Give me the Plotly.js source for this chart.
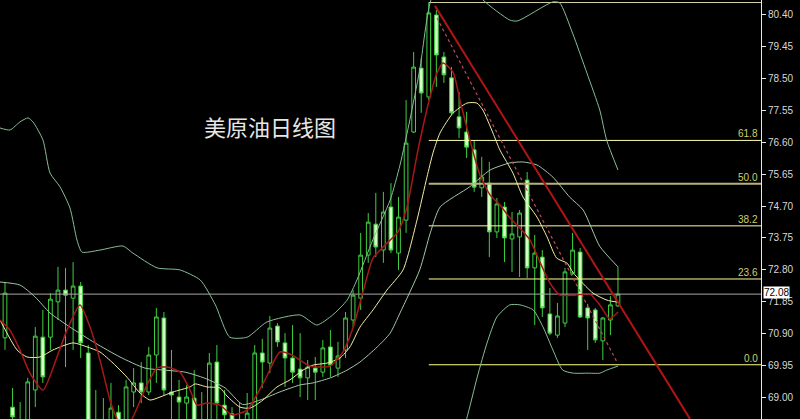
<!DOCTYPE html>
<html><head><meta charset="utf-8">
<script src="https://cdn.plot.ly/plotly-3.0.1.min.js"></script>
<style>html,body{margin:0;padding:0;background:#000;}#chart{width:800px;height:419px;}</style>
</head><body><div id="chart"></div>
<script>
// ---- candle data (daily OHLC) ----
const opens  = [70.78,68.72,67.80,68.10,69.23,70.80,70.80,71.85,72.20,71.96,72.32,70.33,68.20,67.90,68.00,68.57,68.10,69.17,69.44,69.17,70.27,71.37,69.17,69.02,68.84,68.99,67.90,68.10,70.06,68.78,68.52,68.00,68.10,68.20,70.33,70.03,71.13,70.63,70.18,69.85,69.59,69.88,69.76,70.51,69.88,70.42,71.31,71.96,73.24,74.16,73.39,74.67,73.30,74.28,76.90,78.80,77.94,80.38,79.13,78.51,77.35,76.90,76.37,75.24,75.38,73.93,74.67,73.72,73.78,75.47,72.86,73.18,71.49,70.86,71.22,72.71,73.33,71.67,71.61,70.69,71.31,71.73];
const highs  = [72.44,69.29,68.87,69.59,71.10,71.61,72.11,72.89,72.86,73.03,72.44,70.57,69.23,68.99,69.44,68.78,69.53,69.88,70.06,70.51,71.67,71.55,70.42,69.53,69.38,69.82,69.17,70.33,70.57,69.23,68.72,68.87,69.14,70.57,70.75,71.43,71.22,70.92,71.16,70.92,70.12,70.21,70.72,71.01,70.66,71.55,72.20,73.90,74.49,75.09,75.12,75.38,74.97,77.85,79.28,79.10,80.75,80.53,79.28,78.83,78.09,77.50,76.66,76.16,76.01,74.94,74.82,74.52,74.58,75.71,73.84,73.39,72.26,71.82,72.86,73.90,73.45,71.79,71.67,71.40,72.02,72.89];
const lows   = [70.42,68.10,67.60,67.90,68.72,69.44,70.42,71.31,69.91,70.42,70.18,67.90,67.70,67.60,67.80,67.90,67.90,68.72,68.84,69.08,69.44,69.08,68.20,68.20,68.20,67.90,67.70,67.90,68.20,68.20,68.00,67.80,67.90,68.00,69.29,69.73,70.51,69.32,69.44,69.02,68.93,68.93,69.62,69.62,69.62,70.18,71.10,71.61,73.01,73.18,73.01,73.30,72.80,73.90,76.87,77.47,77.85,78.24,78.36,77.41,76.72,76.13,75.12,74.97,73.18,73.75,73.03,72.74,72.59,72.56,71.16,71.40,70.86,70.78,71.10,72.65,71.37,70.42,70.63,70.12,70.86,71.70];
const closes = [72.11,68.43,68.10,69.47,70.83,69.62,71.93,72.20,72.05,72.32,70.63,68.10,67.90,68.20,68.69,68.10,69.32,69.44,69.17,70.27,71.40,69.23,69.08,68.87,69.02,68.10,68.15,70.03,68.84,68.49,68.20,68.20,68.54,70.33,70.06,71.07,70.66,70.18,69.76,69.59,69.91,69.76,70.48,69.97,70.24,71.37,72.05,73.24,74.22,73.48,74.52,73.39,74.37,76.57,78.83,78.06,80.44,79.19,78.60,77.47,77.02,76.45,75.26,75.56,73.93,74.76,73.75,73.87,74.49,72.86,73.30,71.67,70.92,71.43,72.74,73.39,71.40,71.37,70.72,71.37,71.76,72.08];

// ---- indicator lines (candle index, price) ----
const ma5X = [-0.66,0.66,1.98,3.30,5.02,6.87,8.19,9.91,11.23,12.55,13.87,14.80,15.86,16.91,18.76,20.08,21.41,23.12,24.45,25.37,26.69,28.41,29.99,31.98,34.35,36.34,37.92,40.30,42.94,44.66,45.98,47.30,48.63,50.21,51.93,53.12,54.57,56.16,57.08,57.88,59.20,60.12,61.44,62.76,64.09,65.41,66.73,68.05,69.37,70.69,72.01,73.34,75.32,77.30,78.62,79.90,81];
const ma5Y = [71.31,71.01,70.42,69.73,69.23,70.21,71.01,71.76,71.10,70.12,68.93,68.37,68.04,68.42,69.38,69.88,69.91,69.76,69.23,68.78,68.84,68.78,68.49,68.63,69.53,70.36,70.27,69.94,69.94,70.36,71.07,72.14,73.15,73.54,73.93,74.67,76.36,77.94,78.65,78.95,78.68,77.85,76.66,75.62,75.03,74.73,74.34,74.04,73.69,73.03,72.41,72.05,72.05,72.08,71.75,71.35,71.55];
const ma10X = [-0.66,1.59,2.91,4.62,6.34,9.00,10.84,12.55,14.27,16.12,17.84,19.16,20.48,22.19,24.45,25.11,26.69,28.41,29.33,31.05,32.37,34.09,35.94,37.66,39.38,40.70,42.55,44.27,45.58,46.91,48.63,50.47,52.60,54.44,55.76,56.56,57.48,59.20,61.04,62.36,63.15,64.48,65.41,67.12,68.44,70.30,71.63,72.90,74.28,75.10,77.70,79.55,81];
const ma10Y = [71.31,70.42,70.21,70.21,70.42,70.63,70.51,70.36,70.03,69.61,69.14,68.93,69.02,69.17,69.32,69.41,69.32,69.29,69.05,68.72,68.69,68.93,69.32,69.53,69.82,69.97,70.03,70.18,70.51,71.10,71.61,72.20,72.80,74.28,75.56,76.28,76.87,77.46,77.76,77.76,77.55,76.87,76.36,75.68,74.97,74.37,73.78,73.15,73.00,72.71,72.11,71.90,71.84];
const bbMidX = [-0.66,1.98,3.96,5.95,8.59,11.89,15.2,18.5,21.1,23.8,26.4,29.1,31.4,33.7,36.3,39.0,40.7,43.0,45.2,46.9,49.2,50.9,52.2,54.8,56.2,57.5,61.4,64.1,66.7,68.4,70.3,72.4,74.6,76.4,78.6,81];
const bbMidY = [72.44,72.35,72.00,71.52,71.10,70.63,70.21,69.88,69.82,69.76,69.58,69.29,68.80,68.93,69.17,69.38,69.44,69.59,69.82,70.06,70.51,70.92,71.52,72.80,73.90,74.67,75.27,75.77,75.98,76.01,75.92,75.56,74.97,74.58,73.50,72.89];
const bbUpX = [-0.66,0.66,1.98,3.04,3.70,5.02,5.95,7.27,8.59,9.51,10.17,12.55,15.6,16.9,20.1,23.1,25.8,27.8,29.7,32.0,34.6,39.0,41.2,43.3,45.2,46.5,48.6,50.9,52.2,53.5,54.8,56.4,58.5,61.0,63.15,66.7,67.7,72.4,73.3,75.0,76.9,78.6,79.5,81];
const bbUpY = [77.02,76.96,77.20,77.32,77.20,76.66,75.68,75.27,74.64,73.69,73.33,73.39,73.51,73.30,72.86,72.80,72.50,71.76,70.80,70.80,71.25,71.46,71.16,71.46,71.90,72.50,73.69,74.88,75.92,77.26,78.74,80.90,81.40,81.50,80.83,80.23,80.20,80.77,80.74,79.84,78.65,77.55,76.66,75.77];
const bbLowX = [59.5,61.0,62.4,63.7,65.0,66.7,68.05,69.8,71.1,72.4,73.7,75.1,76.9,78.6,79.5,81];
const bbLowY = [67.30,68.37,69.61,70.63,71.40,71.76,71.76,71.61,71.10,70.42,69.82,69.73,69.73,69.73,69.82,69.94];

// ---- drawn objects ----
const trendX = [56.82,90.51];      const trendY = [80.65,68.37];
const trendDashX = [57.08,80.87];  const trendDashY = [80.29,70.06];
const fibLabels = ['0.0','23.6','38.2','50.0','61.8','100.0'];
const fibPrices = [69.98,72.53,74.11,75.36,76.65,80.75];
const fibColors = ['#ffff88','#ffff99','#ffffa0','#b8b27a','#ffffb8','#d6d2a4'];
const fibStart = 56.0, xEnd = 99.9;
const lastPrice = 72.08;
const yTicks = [80.40,79.45,78.50,77.55,76.60,75.65,74.70,73.75,72.80,71.85,70.90,69.95,69.00];
const titleText = '美原油日线图';

const idx = opens.map((_, i) => i);
const traces = [];
fibPrices.forEach((p, k) => {
  traces.push({type:'scatter', mode:'lines', x:[fibStart, xEnd], y:[p, p],
    line:{color:fibColors[k], width: k===3 ? 2 : 1}, hoverinfo:'skip', showlegend:false});
});
traces.push({type:'scatter', mode:'lines', x:[-1, xEnd], y:[lastPrice, lastPrice],
  line:{color:'#a8a8a8', width:1}, hoverinfo:'skip', showlegend:false});
traces.push({type:'candlestick', x:idx, open:opens, high:highs, low:lows, close:closes,
  increasing:{line:{color:'#3fcf3f', width:1}, fillcolor:'#000000'},
  decreasing:{line:{color:'#3fcf3f', width:1}, fillcolor:'#d4ffc4'},
  whiskerwidth:0, showlegend:false, hoverinfo:'skip'});
const bandCol = '#86bf94';
traces.push({type:'scatter', mode:'lines', x:bbUpX, y:bbUpY, line:{color:bandCol, width:1, shape:'spline', smoothing:0.6}, showlegend:false, hoverinfo:'skip'});
traces.push({type:'scatter', mode:'lines', x:bbLowX, y:bbLowY, line:{color:bandCol, width:1, shape:'spline', smoothing:0.6}, showlegend:false, hoverinfo:'skip'});
traces.push({type:'scatter', mode:'lines', x:bbMidX, y:bbMidY, line:{color:'#a3c7a8', width:1, shape:'spline', smoothing:0.6}, showlegend:false, hoverinfo:'skip'});
traces.push({type:'scatter', mode:'lines', x:ma10X, y:ma10Y, line:{color:'#f2eea0', width:1, shape:'spline', smoothing:0.6}, showlegend:false, hoverinfo:'skip'});
traces.push({type:'scatter', mode:'lines', x:ma5X, y:ma5Y, line:{color:'#a81818', width:1.5, shape:'spline', smoothing:0.6}, showlegend:false, hoverinfo:'skip'});
traces.push({type:'scatter', mode:'lines', x:trendX, y:trendY, line:{color:'#b01515', width:2}, showlegend:false, hoverinfo:'skip'});
traces.push({type:'scatter', mode:'lines', x:trendDashX, y:trendDashY, line:{color:'#c04a5a', width:1.2, dash:'dot'}, showlegend:false, hoverinfo:'skip'});

const annotations = [];
fibLabels.forEach((t, k) => {
  if (k === 5) return;
  annotations.push({xref:'paper', yref:'y', x:1, y:fibPrices[k], xanchor:'right', yanchor:'bottom',
    xshift:-1, yshift:-1, text:t, showarrow:false, font:{family:'Liberation Sans, Arial', size:10, color:'#d2cf6a'}});
});
annotations.push({xref:'paper', yref:'y', x:1, y:lastPrice, xanchor:'left', yanchor:'middle', xshift:2, yshift:2,
  text:lastPrice.toFixed(2), showarrow:false, bgcolor:'#ffffff', borderpad:0,
  font:{family:'Liberation Sans, Arial', size:10, color:'#000000'}});
annotations.push({xref:'paper', yref:'paper', x:0.355, y:0.699, xanchor:'center', yanchor:'middle',
  text:titleText, showarrow:false, font:{family:'Noto Sans CJK SC', size:22, color:'#e6e6e6'}});

const layout = {
  width:800, height:419,
  margin:{l:0, r:39, t:0, b:0, pad:0},
  paper_bgcolor:'#000000', plot_bgcolor:'#000000',
  xaxis:{range:[-0.66, xEnd], visible:false, rangeslider:{visible:false}, fixedrange:true},
  yaxis:{range:[68.367, 80.825], side:'right', tickmode:'array', tickvals:yTicks,
    ticktext:yTicks.map(v => v.toFixed(2)), showgrid:false, zeroline:false,
    showline:true, linecolor:'#e8e8e8', linewidth:1, ticks:'outside', ticklen:4, tickcolor:'#e8e8e8',
    tickfont:{family:'Liberation Sans, Arial', size:10, color:'#d8d8d8'}, fixedrange:true},
  annotations:annotations,
  showlegend:false
};
Plotly.newPlot('chart', traces, layout, {staticPlot:true, displayModeBar:false});
</script></body></html>
